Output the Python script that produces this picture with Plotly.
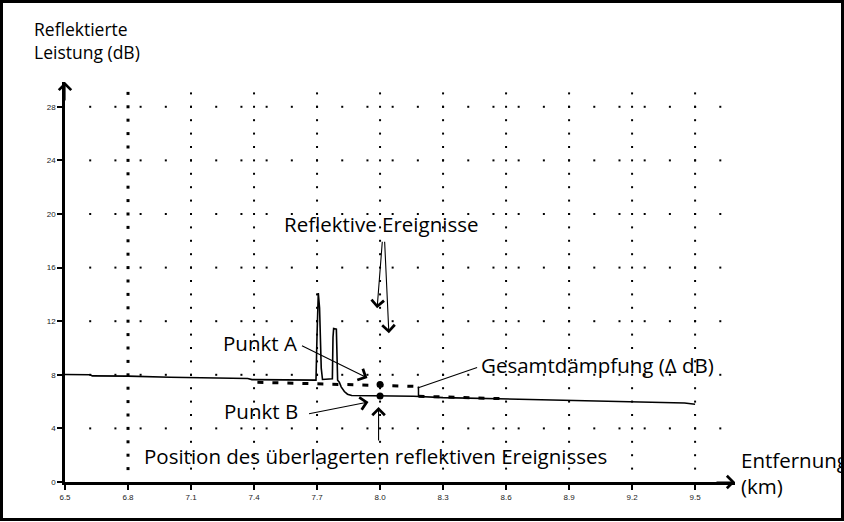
import plotly.graph_objects as go

# ---- data -------------------------------------------------------------
# OTDR trace: distance (km) vs. reflected power (dB)
trace_km = [6.50, 6.62, 6.63, 6.80, 7.00, 7.20, 7.37, 7.39, 7.60, 7.695,
            7.700, 7.706, 7.712, 7.716, 7.720, 7.726, 7.750, 7.773, 7.776,
            7.779, 7.792, 7.795, 7.798, 7.806, 7.815, 7.830, 7.845, 7.865,
            8.000, 8.160, 8.300, 8.600, 8.900, 9.000, 9.200, 9.450, 9.500]
trace_db = [8.02, 8.00, 7.92, 7.90, 7.82, 7.75, 7.72, 7.64, 7.60, 7.60,
            11.0, 14.1, 13.0, 10.0, 8.5, 7.65, 7.65, 7.70, 10.8,
            11.45, 11.4, 9.0, 7.6, 7.45, 7.10, 6.75, 6.55, 6.45,
            6.42, 6.40, 6.30, 6.20, 6.10, 6.05, 5.95, 5.90, 5.80]

# Regression levels before / after the superimposed event
before_km = [7.416, 8.183]
before_db = [7.44, 7.13]
after_km = [8.183, 8.60]
after_db = [6.40, 6.21]

# Measurement points A and B
point_km = [8.0, 8.0]
point_db = [7.27, 6.42]

# Axes
x_ticks = [6.5, 6.8, 7.1, 7.4, 7.7, 8.0, 8.3, 8.6, 8.9, 9.2, 9.5]
x_labels = ["6.5", "6.8", "7.1", "7.4", "7.7", "8.0", "8.3", "8.6", "8.9", "9.2", "9.5"]
y_ticks = [0, 4, 8, 12, 16, 20, 24, 28]
y_labels = ["0", "4", "8", "12", "16", "20", "24", "28"]
X_MAX = 9.69
Y_MAX = 29.85

# ---- layout geometry (pixels) ----------------------------------------
W, H = 844, 522
PL, PR, PT, PB = 65, 735, 82, 482


def fx(px):
    return (px - PL) / (PR - PL)


def fy(py):
    return (PB - py) / (PB - PT)


FONT = "Open Sans"
TXT = 20.5

fig = go.Figure()

# dotted grid: vertical lines at each distance tick, horizontal every 4 dB
grid_x, grid_y = [], []
bold_x, bold_y = [], []
for xv in x_ticks[1:]:
    for yv in range(1, 30):
        if xv == 6.8:
            bold_x.append(xv)
            bold_y.append(yv)
        else:
            grid_x.append(xv)
            grid_y.append(yv)
for yv in y_ticks[1:]:
    for k in range(1, 27):
        grid_x.append(6.5 + 0.12 * k)
        grid_y.append(yv)

fig.add_trace(go.Scatter(x=grid_x, y=grid_y, mode="markers",
                         marker=dict(symbol="square", size=2, color="black", line_width=0),
                         hoverinfo="skip", showlegend=False))
fig.add_trace(go.Scatter(x=bold_x, y=bold_y, mode="markers",
                         marker=dict(symbol="square", size=3, color="black", line_width=0),
                         hoverinfo="skip", showlegend=False))

# fitted levels (bold dashes)
dash = dict(color="black", width=3, dash="6px,9px")
fig.add_trace(go.Scatter(x=before_km, y=before_db, mode="lines", line=dash,
                         showlegend=False, hoverinfo="skip"))
fig.add_trace(go.Scatter(x=after_km, y=after_db, mode="lines", line=dash,
                         showlegend=False, hoverinfo="skip"))
# step between the two levels
fig.add_trace(go.Scatter(x=[before_km[-1], after_km[0]], y=[before_db[-1], after_db[0]],
                         mode="lines", line=dict(color="black", width=1.5),
                         showlegend=False, hoverinfo="skip"))

# OTDR trace
fig.add_trace(go.Scatter(x=trace_km, y=trace_db, mode="lines",
                         line=dict(color="black", width=1.6),
                         showlegend=False, hoverinfo="skip"))

# points A and B
fig.add_trace(go.Scatter(x=point_km, y=point_db, mode="markers",
                         marker=dict(size=7, color="black"),
                         showlegend=False, hoverinfo="skip"))

ann = []


def label(text, px, py, xanchor="left", size=TXT, align="left"):
    ann.append(dict(text=text, x=fx(px), y=fy(py), xref="paper", yref="paper",
                    xanchor=xanchor, yanchor="middle", showarrow=False, align=align,
                    font=dict(family=FONT, size=size, color="black")))


def pointer(x, y, ax, ay, head=4, size=2.2):
    ann.append(dict(text="", x=x, y=y, xref="x", yref="y", ax=ax, ay=ay,
                    showarrow=True, arrowhead=head, arrowsize=size, arrowwidth=1.1,
                    arrowcolor="black", standoff=0, startstandoff=0))


label("Reflektierte<br>Leistung (dB)", 32, 41, size=17.5)
label("Reflektive Ereignisse", 381, 224, xanchor="center")
label("Punkt A", 220.5, 342.5)
label("Punkt B", 221.5, 411)
label("Gesamtdämpfung (\u0394 dB)", 479, 365)
label("Position des überlagerten reflektiven Ereignisses", 141.5, 455.5)
label("Entfernung", 739, 459.5)
label("(km)", 739, 486)

# arrows pointing at the features
pointer(7.986, 12.96, 5.3, -68)
pointer(8.042, 11.10, -4.3, -93)
pointer(7.940, 7.76, -67, -33)
pointer(7.945, 5.97, -61, 12)
pointer(7.993, 5.60, 0, 35)
pointer(8.179, 7.01, 61, -21, head=0)

# axis arrowheads
ann.append(dict(text="", x=0, y=1.0, xref="paper", yref="paper", ax=0, ay=20,
                showarrow=True, arrowhead=4, arrowsize=2.0, arrowwidth=1.2,
                arrowcolor="black", standoff=0))
ann.append(dict(text="", x=1.0, y=0, xref="paper", yref="paper", ax=-20, ay=0,
                showarrow=True, arrowhead=4, arrowsize=2.0, arrowwidth=1.2,
                arrowcolor="black", standoff=0))

fig.update_layout(
    width=W, height=H,
    margin=dict(l=PL, r=W - PR, t=PT, b=H - PB, autoexpand=False),
    paper_bgcolor="white", plot_bgcolor="white",
    annotations=ann,
    shapes=[dict(type="rect", xref="paper", yref="paper",
                 x0=fx(1.5), x1=fx(842.5), y0=fy(519.5), y1=fy(1.5),
                 line=dict(color="black", width=3), layer="above")],
    xaxis=dict(range=[6.5, X_MAX], showgrid=False, zeroline=False,
               showline=True, linecolor="black", linewidth=3,
               ticks="outside", ticklen=5, tickwidth=1.5, tickcolor="black",
               tickvals=x_ticks, ticktext=x_labels,
               tickfont=dict(family="Liberation Sans", size=8, color="#222"),
               automargin=False, fixedrange=True),
    yaxis=dict(range=[0, Y_MAX], showgrid=False, zeroline=False,
               showline=True, linecolor="black", linewidth=2.5,
               ticks="outside", ticklen=5, tickwidth=1.5, tickcolor="black",
               tickvals=y_ticks, ticktext=y_labels,
               tickfont=dict(family="Liberation Sans", size=8, color="#222"),
               automargin=False, fixedrange=True),
)

fig.write_html("out.html")
